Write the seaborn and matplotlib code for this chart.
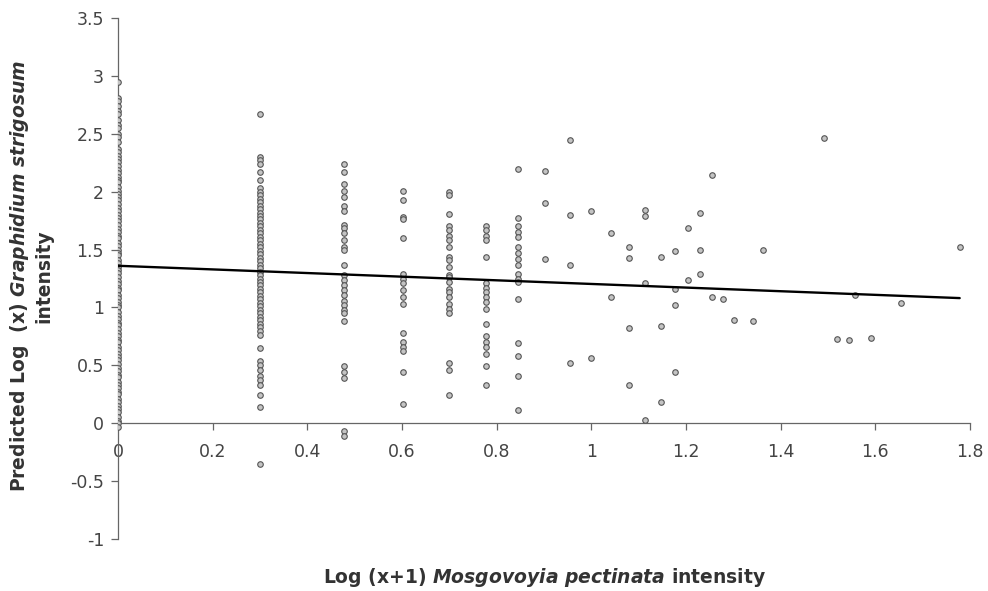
import numpy as np
import pandas as pd
import matplotlib
matplotlib.use("Agg")
import matplotlib.pyplot as plt
import seaborn as sns

# intensity counts (x is log10 of count, i.e. log(x+1) of worm count)
# y values, one list per crowded column
y_n1 = [2.95, 2.81, 2.78, 2.74, 2.70, 2.67, 2.62, 2.58, 2.55, 2.50, 2.47, 2.43,
        2.37, 2.34, 2.31, 2.28, 2.26, 2.22, 2.19, 2.16, 2.13, 2.10, 2.08, 2.04,
        2.01, 1.98, 1.95, 1.93, 1.89, 1.86, 1.83, 1.80, 1.77, 1.75, 1.71, 1.68,
        1.65, 1.62, 1.60, 1.56, 1.53, 1.50, 1.47, 1.45, 1.41, 1.38, 1.35, 1.32,
        1.30, 1.26, 1.23, 1.20, 1.17, 1.15, 1.11, 1.08, 1.05, 1.02, 1.00, 0.96,
        0.93, 0.90, 0.87, 0.85, 0.81, 0.78, 0.75, 0.72, 0.70, 0.66, 0.63, 0.60,
        0.57, 0.55, 0.51, 0.48, 0.45, 0.42, 0.40, 0.36, 0.33, 0.30, 0.27, 0.25,
        0.21, 0.18, 0.15, 0.12, 0.10, 0.05, 0.02, 0.00, -0.03]
y_n2 = [2.67, 2.30, 2.27, 2.24, 2.17, 2.10,
        2.03, 2.00, 1.97, 1.94, 1.91, 1.88, 1.85, 1.82, 1.79, 1.76, 1.73, 1.70,
        1.67, 1.64, 1.61, 1.58, 1.55, 1.52, 1.49, 1.46, 1.43, 1.40, 1.37, 1.34,
        1.31, 1.28, 1.25, 1.22, 1.19, 1.16, 1.13, 1.10, 1.07, 1.04, 1.01, 0.98,
        0.95, 0.92, 0.89, 0.86, 0.83, 0.80, 0.76,
        0.65, 0.54, 0.50, 0.46, 0.41, 0.37, 0.33, 0.24, 0.14, -0.35]
y_n3 = [2.24, 2.17, 2.07, 2.01, 1.95, 1.88, 1.83, 1.71, 1.69, 1.64, 1.58, 1.52,
        1.50, 1.37, 1.28, 1.24, 1.19, 1.15, 1.11, 1.06, 1.02, 0.98, 0.95, 0.88,
        0.49, 0.44, 0.39, -0.07, -0.11]
y_n4 = [2.01, 1.93, 1.78, 1.76, 1.60, 1.29, 1.25, 1.21, 1.15, 1.09, 1.03,
        0.78, 0.70, 0.66, 0.62, 0.44, 0.17]
y_n5 = [2.00, 1.97, 1.81, 1.70, 1.67, 1.62, 1.58, 1.52, 1.44, 1.41, 1.35, 1.28,
        1.26, 1.22, 1.16, 1.13, 1.09, 1.03, 0.99, 0.95, 0.52, 0.46, 0.24]
y_n6 = [1.70, 1.67, 1.62, 1.58, 1.44, 1.21, 1.17, 1.13, 1.09, 1.05, 0.99, 0.86,
        0.75, 0.70, 0.66, 0.60, 0.49, 0.33]
y_n7 = [2.20, 1.77, 1.70, 1.65, 1.61, 1.52, 1.47, 1.42, 1.37, 1.29, 1.25, 1.22,
        1.07, 0.69, 0.58, 0.41, 0.11]

# sparse hosts with higher intensities
sparse_n = [8, 8, 8, 9, 9, 9, 9, 10, 10, 11, 11, 12, 12, 12, 12, 13, 13, 13, 13,
            14, 14, 14, 15, 15, 15, 15, 16, 16, 17, 17, 17, 18, 18, 19, 20, 22,
            23, 31, 33, 35, 36, 39, 45, 60]
sparse_y = [2.18, 1.90, 1.42, 2.45, 1.80, 1.37, 0.52, 1.83, 0.56, 1.64, 1.09,
            1.52, 1.43, 0.82, 0.33, 1.84, 1.79, 1.21, 0.03, 1.44, 0.84, 0.18,
            1.49, 1.16, 1.02, 0.44, 1.69, 1.24, 1.82, 1.50, 1.29, 2.14, 1.09,
            1.07, 0.89, 0.88, 1.50, 2.46, 0.73, 0.72, 1.11, 0.74, 1.04, 1.52]

# fitted regression line
fit_intercept = 1.36
fit_slope = -0.157

columns = {1: y_n1, 2: y_n2, 3: y_n3, 4: y_n4, 5: y_n5, 6: y_n6, 7: y_n7}
frames = [pd.DataFrame({"n": n, "y": ys}) for n, ys in columns.items()]
frames.append(pd.DataFrame({"n": sparse_n, "y": sparse_y}))
df = pd.concat(frames, ignore_index=True)
df["x"] = np.log10(df["n"])

x_line = np.array([df["x"].min(), df["x"].max()])
line_df = pd.DataFrame({"x": x_line, "y": fit_intercept + fit_slope * x_line})

sns.set_style("ticks")
plt.rcParams["font.family"] = ["DejaVu Sans"]
plt.rcParams["mathtext.fontset"] = "custom"
plt.rcParams["mathtext.rm"] = "DejaVu Sans:bold"
plt.rcParams["mathtext.it"] = "DejaVu Sans:italic:bold"

fig = plt.figure(figsize=(9.88, 5.91), dpi=100)
ax = fig.add_axes([0.1194, 0.088, 0.8624, 0.8815])

sns.scatterplot(data=df, x="x", y="y", ax=ax, marker="o", s=16,
                color="#c4c4c4", edgecolor="#555555", linewidth=0.8, zorder=3)
sns.lineplot(data=line_df, x="x", y="y", ax=ax, color="black", linewidth=1.7, zorder=4)

ax.set_xlim(0, 1.8)
ax.set_ylim(-1, 3.5)
ax.set_xticks([0, 0.2, 0.4, 0.6, 0.8, 1.0, 1.2, 1.4, 1.6, 1.8])
ax.set_xticklabels(["0", "0.2", "0.4", "0.6", "0.8", "1", "1.2", "1.4", "1.6", "1.8"])
ax.set_yticks([-1, -0.5, 0, 0.5, 1, 1.5, 2, 2.5, 3, 3.5])
ax.set_yticklabels(["-1", "-0.5", "0", "0.5", "1", "1.5", "2", "2.5", "3", "3.5"])

ax.spines["bottom"].set_position(("data", 0))
ax.spines["top"].set_visible(False)
ax.spines["right"].set_visible(False)
for s in ["left", "bottom"]:
    ax.spines[s].set_color("#666666")
    ax.spines[s].set_linewidth(0.9)
ax.tick_params(axis="x", direction="out", length=5, width=0.9, color="#666666",
               pad=9, labelsize=12.5, labelcolor="#444444")
ax.tick_params(axis="y", direction="out", length=5, width=0.9, color="#666666",
               pad=5, labelsize=12.5, labelcolor="#444444")
ax.set_xlabel("")
ax.set_ylabel("")

fig.text(0.551, 0.023, r"Log (x+1) $\mathit{Mosgovoyia\ pectinata}$ intensity",
         ha="center", va="center", fontsize=13.5, fontweight="bold", color="#333333")
fig.text(0.02, 0.533, r"Predicted Log  (x) $\mathit{Graphidium\ strigosum}$",
         ha="center", va="center", rotation=90, fontsize=13.5, fontweight="bold",
         color="#333333")
fig.text(0.044, 0.533, "intensity", ha="center", va="center", rotation=90,
         fontsize=13.5, fontweight="bold", color="#333333")

fig.savefig("out.png", dpi=100)
